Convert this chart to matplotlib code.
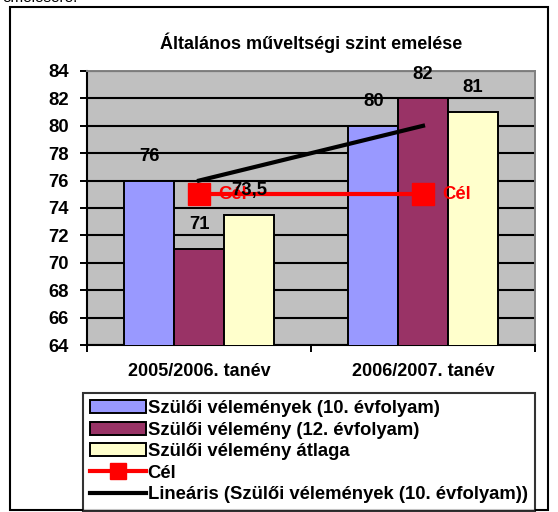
import matplotlib.pyplot as plt
import numpy as np
from matplotlib.patches import Rectangle

plt.rcParams['font.family'] = ['Liberation Sans', 'DejaVu Sans']
plt.rcParams['font.weight'] = 'bold'

categories = ['2005/2006. tanév', '2006/2007. tanév']
sz10 = [76, 80]
sz12 = [71, 82]
atlag = [73.5, 81]
cel = [75, 75]
series_names = ['Szülői vélemények (10. évfolyam)', 'Szülői vélemény (12. évfolyam)',
                'Szülői vélemény átlaga']
colors = ['#9999FF', '#993366', '#FFFFCC']

fig = plt.figure(figsize=(5.58, 5.12), dpi=100)
ax = fig.add_axes([87/558, 1 - 345/512, 448/558, 274/512])
ax.set_facecolor('#C0C0C0')

x = np.arange(len(categories))
w = 1 / 4.5
bars = []
for i, (vals, col, name) in enumerate(zip([sz10, sz12, atlag], colors, series_names)):
    b = ax.bar(x + (i - 1) * w, vals, w, bottom=0, color=col, edgecolor='black',
               linewidth=1.4, label=name, zorder=3)
    bars.append(b)
    for xi, v in zip(x + (i - 1) * w, vals):
        lbl = f'{v:g}'.replace('.', ',')
        ax.annotate(lbl, (xi, v), xytext=(0, 17.5), textcoords='offset points',
                    ha='center', va='center', fontsize=13.3, fontweight='bold', zorder=6)

ln, = ax.plot(x, cel, color='red', lw=3, marker='s', markersize=16, label='Cél', zorder=4)
for xi, v in zip(x, cel):
    ax.annotate('Cél', (xi, v), xytext=(14, 0), textcoords='offset points',
                ha='left', va='center', color='red', fontsize=13.3, fontweight='bold', zorder=5)

# linear trend of the 10th grade series
coef = np.polyfit(x, sz10, 1)
tr, = ax.plot(x, np.polyval(coef, x), color='black', lw=3,
              label='Lineáris (Szülői vélemények (10. évfolyam))', zorder=5)

ax.set_ylim(64, 84)
ax.set_yticks(np.arange(64, 85, 2))
ax.set_xlim(-0.5, 1.5)
ax.set_xticks(x)
ax.set_xticklabels(categories, fontsize=13, fontweight='bold')
ax.set_xticks([-0.5, 0.5, 1.5], minor=True)
ax.tick_params(axis='x', which='major', length=0, pad=13)
ax.tick_params(axis='x', which='minor', length=5, width=1.4, direction='out')
ax.tick_params(axis='y', length=5, width=1.4, labelsize=13.3, pad=8)
for t in ax.get_yticklabels():
    t.set_fontweight('bold')
ax.yaxis.grid(True, color='black', lw=1.5, zorder=1)
ax.set_axisbelow(True)
for s in ['top', 'right']:
    ax.spines[s].set_color('#808080')
    ax.spines[s].set_linewidth(1.4)
for s in ['left', 'bottom']:
    ax.spines[s].set_linewidth(1.5)

ax.set_title('Általános műveltségi szint emelése', fontsize=13, fontweight='bold', pad=16)

leg = fig.legend(handles=[bars[0], bars[1], bars[2], ln, tr], loc='upper left',
                 bbox_to_anchor=(83/558, 1 - 393/512), fontsize=13.3, frameon=True,
                 fancybox=False, edgecolor='black', handlelength=3.0, handleheight=0.7,
                 handletextpad=0.1, labelspacing=0.24, borderpad=0.4, borderaxespad=0)
leg.get_frame().set_linewidth(1.5)
leg.legend_handles[3].set_markersize(11)
leg.set_zorder(10)

fig.patches.append(Rectangle((10/558, 2/512), 538/558, 503/512, transform=fig.transFigure,
                             fill=False, edgecolor='black', lw=1.5))
fig.text(2/558, 1 - 2/512, 'emelésére.', fontsize=11, va='baseline', fontweight='normal')

fig.savefig('out.png', dpi=100)
